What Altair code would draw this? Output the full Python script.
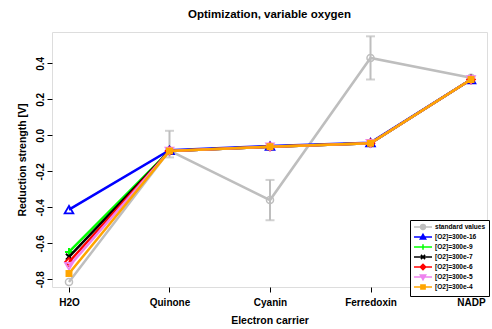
import altair as alt
import pandas as pd

# Electron carriers along the chain (x axis categories)
carriers = ["H2O", "Quinone", "Cyanin", "Ferredoxin", "NADP"]

# Series names, colours and marker shapes
series_names = [
    "standard values",
    "[O2]=300e-16",
    "[O2]=300e-9",
    "[O2]=300e-7",
    "[O2]=300e-6",
    "[O2]=300e-5",
    "[O2]=300e-4",
]
series_colors = ["#BEBEBE", "#0000FF", "#00FF00", "#000000", "#FF0000", "#EE82EE", "#FFA500"]

# Reduction strength [V] per carrier
standard_values = [-0.815, -0.085, -0.36, 0.43, 0.32]
standard_low = [None, -0.123, -0.472, 0.31, None]
standard_high = [None, 0.025, -0.248, 0.55, None]
o2_300e_16 = [-0.413, -0.083, -0.060, -0.041, 0.31]
o2_300e_9 = [-0.648, -0.087, -0.063, -0.044, 0.31]
o2_300e_7 = [-0.675, -0.087, -0.063, -0.044, 0.31]
o2_300e_6 = [-0.704, -0.087, -0.063, -0.044, 0.31]
o2_300e_5 = [-0.728, -0.087, -0.063, -0.044, 0.31]
o2_300e_4 = [-0.768, -0.087, -0.063, -0.044, 0.31]

series_values = [standard_values, o2_300e_16, o2_300e_9, o2_300e_7,
                 o2_300e_6, o2_300e_5, o2_300e_4]

# marker shape, filled?, size, stroke width
markers = [
    ("circle", False, 50, 1.5),
    ("triangle-up", False, 75, 1.8),
    ("M-1,0H1M0,-1V1", False, 64, 2.0),
    ("M-1,-1L1,1M-1,1L1,-1", False, 36, 2.0),
    ("diamond", False, 60, 1.8),
    ("triangle-down", False, 60, 1.8),
    ("square", True, 48, 0),
]

# legend symbols: a short line with the marker in its middle
legend_paths = [
    "M-1,0H5M2.8,0A0.8,0.8 0 1,1 1.2,0A0.8,0.8 0 1,1 2.8,0",
    "M-1,0H5M2,-0.9L2.9,0.7L1.1,0.7Z",
    "M-1,0H5M1.1,0H2.9M2,-0.9V0.9",
    "M-1,0H5M1.3,-0.7L2.7,0.7M1.3,0.7L2.7,-0.7",
    "M-1,0H5M2,-0.9L2.9,0L2,0.9L1.1,0Z",
    "M-1,0H5M2,0.9L2.9,-0.7L1.1,-0.7Z",
    "M-1,0H5M1.3,-0.7H2.7V0.7H1.3Z",
]

FONT = "Liberation Sans"
label_list = "[" + ",".join("'" + c + "'" for c in carriers) + "]"

x_scale = alt.Scale(domain=[-0.169, 4.159], nice=False, zero=False)
x_axis = alt.Axis(
    values=list(range(len(carriers))),
    labelExpr=label_list + "[datum.value]",
    title="Electron carrier",
    grid=False, domain=False,
    tickColor="black", tickSize=5, tickWidth=1,
    labelFont=FONT, labelFontSize=10, labelFontWeight="bold",
    labelColor="black", labelPadding=5, labelAngle=0,
    labelAlign="center", labelBaseline="top",
    titleFont=FONT, titleFontSize=10.5, titleFontWeight="bold",
    titleColor="black", titlePadding=8,
)
y_scale = alt.Scale(domain=[-0.843, 0.574], nice=False, zero=False)
y_axis = alt.Axis(
    values=[-0.8, -0.6, -0.4, -0.2, 0.0, 0.2, 0.4],
    labelExpr="replace(format(datum.value, '.1f'), '\u2212', '-')",
    title="Reduction strength [V]",
    grid=False, domain=False,
    tickColor="black", tickSize=5, tickWidth=1,
    labelFont=FONT, labelFontSize=10, labelFontWeight="bold",
    labelColor="black", labelPadding=2, labelAngle=270,
    labelAlign="center", labelBaseline="bottom",
    titleFont=FONT, titleFontSize=10.5, titleFontWeight="bold",
    titleColor="black", titleX=-30, titleY=127.5,
    titleAngle=270, titleAlign="center", titleBaseline="middle",
)

x_enc = alt.X("idx:Q", scale=x_scale, axis=x_axis)
y_enc = alt.Y("val:Q", scale=y_scale, axis=y_axis)

layers = []

# error bars of the standard values
err_df = pd.DataFrame({
    "idx": list(range(len(carriers))),
    "lo": standard_low,
    "hi": standard_high,
}).dropna()
err_base = alt.Chart(err_df)
layers.append(err_base.mark_rule(color=series_colors[0], strokeWidth=2).encode(
    x=x_enc, y=alt.Y("lo:Q", scale=y_scale, axis=y_axis), y2="hi:Q"))
layers.append(err_base.mark_tick(color=series_colors[0], orient="horizontal",
                                 size=9, thickness=2).encode(
    x=x_enc, y=alt.Y("lo:Q", scale=y_scale, axis=y_axis)))
layers.append(err_base.mark_tick(color=series_colors[0], orient="horizontal",
                                 size=9, thickness=2).encode(
    x=x_enc, y=alt.Y("hi:Q", scale=y_scale, axis=y_axis)))

# one line + marker layer per series
for name, color, vals, (shape, filled, size, sw) in zip(series_names, series_colors,
                                                         series_values, markers):
    df = pd.DataFrame({"idx": list(range(len(carriers))), "val": vals})
    base = alt.Chart(df)
    layers.append(base.mark_line(color=color, strokeWidth=2.5).encode(x=x_enc, y=y_enc))
    if filled:
        pt = base.mark_point(shape=shape, filled=True, color=color, size=size, opacity=1)
    else:
        pt = base.mark_point(shape=shape, filled=False, color=color, size=size,
                             strokeWidth=sw, opacity=1)
    layers.append(pt.encode(x=x_enc, y=y_enc))

# legend layer: draws nothing, only carries the legend scales
leg_df = pd.DataFrame({"series": series_names})
legend_def = alt.Legend(
    title=None, orient="none", legendX=358, legendY=188,
    symbolSize=36, symbolStrokeWidth=1.5, symbolOpacity=1,
    labelFont=FONT, labelFontSize=6.6, labelFontWeight="bold", labelColor="black",
    labelOffset=14, rowPadding=-4.5, padding=3,
    strokeColor="black", fillColor="white", labelLimit=200,
)
layers.append(
    alt.Chart(leg_df).mark_point(size=36, opacity=1).encode(
        shape=alt.Shape("series:N", scale=alt.Scale(domain=series_names, range=legend_paths),
                        legend=legend_def),
        fill=alt.Fill("series:N", scale=alt.Scale(domain=series_names, range=series_colors),
                      legend=legend_def),
        stroke=alt.Stroke("series:N", scale=alt.Scale(domain=series_names, range=series_colors),
                          legend=legend_def),
    ).transform_filter("false")
)

chart = alt.layer(*layers).properties(
    width=435,
    height=255,
    autosize=alt.AutoSizeParams(type="none"),
    padding={"left": 52, "top": 32, "right": 5, "bottom": 42},
    title=alt.TitleParams(
        "Optimization, variable oxygen",
        font=FONT, fontSize=11.5, fontWeight="bold", color="black",
        anchor="middle", offset=12,
    ),
).configure_view(
    stroke="black", strokeWidth=1.5
).configure(background="white")

chart.save("out.html", embed_options={"renderer": "svg", "actions": False})
